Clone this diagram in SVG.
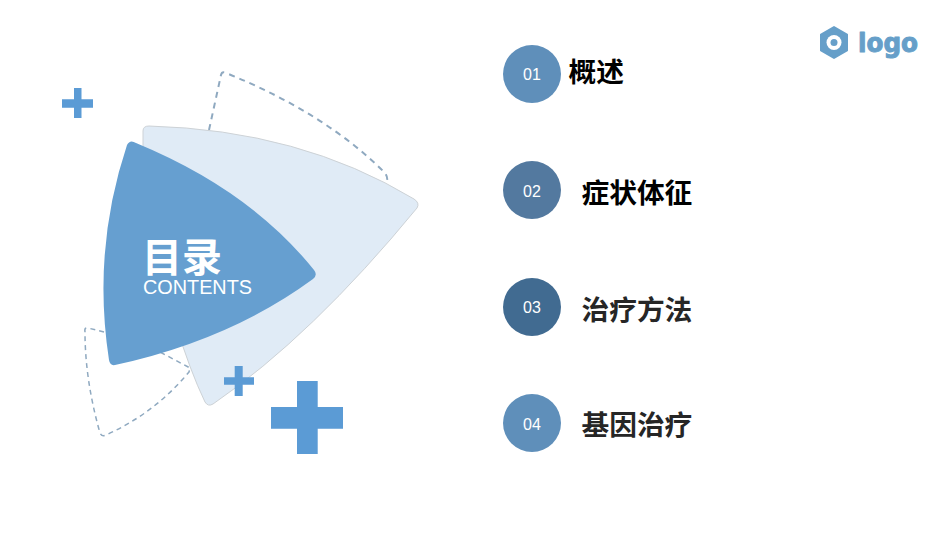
<svg xmlns="http://www.w3.org/2000/svg" width="950" height="535" viewBox="0 0 950 535">
<style>
text{font-family:"Liberation Sans","Noto Sans CJK SC",sans-serif}
.dash{fill:none;stroke:#8fa9c0;stroke-linejoin:round}
.plus{fill:#5b9bd5}
.num{fill:#fff;font-size:16px;text-anchor:middle}
.zh{font-size:27.7px;font-weight:700;font-family:"Noto Sans CJK SC",sans-serif}
</style>
<rect width="950" height="535" fill="#fff"/>
<g id="dashed-top"><path class="dash" stroke-width="2" stroke-dasharray="6 5" d="M209 130L221 75Q222 71 226 73Q325 113 384 172Q388 176 387 181"/></g>
<g id="dashed-bottom"><path class="dash" stroke-width="1.500" stroke-dasharray="5 4" d="M104 332L88 328Q84 327 85 332Q85 380 100 433Q102 437 106 435Q155 413 189 372L190 368L160 352"/></g>
<g id="back-petal"><path fill="#e0ebf6" stroke="#cdd2d6" stroke-width="1" d="M143 131Q143 126 149 126Q300 130 414 199Q420 203 417 208Q312 336 213 404Q208 407 205 402Q175 340 143 200Z"/></g>
<g id="front-petal"><path fill="#669fd0" d="M127 145Q130 139 136 143Q250 190 314 270Q318 275 313 279Q230 340 115 365Q110 366 109 360Q92 250 127 145Z"/></g>
<g id="title">
<text x="142" y="272" font-size="40" font-weight="700" fill="#fff" style="font-family:'Noto Sans CJK SC',sans-serif">目录</text>
<text x="143" y="294" font-size="20" fill="#fff" textLength="109" lengthAdjust="spacingAndGlyphs">CONTENTS</text>
</g>
<g id="plus-1"><path class="plus" d="M74 88h7.500v11.300h11.500v8.400h-11.500v10.300h-7.500v-10.300h-12v-8.400h12z"/></g>
<g id="plus-2"><path class="plus" d="M234.700 366h8v11.300h11.300v7.400h-11.300v11.300h-8v-11.300h-10.700v-7.400h10.700z"/></g>
<g id="plus-3"><path class="plus" d="M297 381h20.700v26h25.300v21.700h-25.300v25.300h-20.700v-25.300h-26v-21.700h26z"/></g>
<g id="logo">
<path fill="#669fc9" stroke="#669fc9" stroke-width="2" stroke-linejoin="round" d="M834 27l13 7.500v16l-13 7.500-13-7.500v-16z"/>
<circle cx="834" cy="42.500" r="7.500" fill="#fff"/><circle cx="834" cy="42.500" r="3.500" fill="#669fc9"/>
<text x="858" y="52" font-size="26" font-weight="700" fill="#669fc9" stroke="#669fc9" stroke-width="1" stroke-linejoin="round" style="font-family:'DejaVu Sans',sans-serif" textLength="60" lengthAdjust="spacingAndGlyphs">logo</text>
</g>
<g id="item-1"><circle cx="532" cy="74" r="29" fill="#5f8fba"/><text class="num" x="532" y="80">01</text><text class="zh" x="568.500" y="82" fill="#000">概述</text></g>
<g id="item-2"><circle cx="532" cy="190" r="29" fill="#53799f"/><text class="num" x="532" y="197">02</text><text class="zh" x="581.500" y="203" fill="#000">症状体征</text></g>
<g id="item-3"><circle cx="532" cy="307" r="29" fill="#416b91"/><text class="num" x="532" y="313">03</text><text class="zh" x="581.500" y="320" fill="#262626">治疗方法</text></g>
<g id="item-4"><circle cx="532" cy="423" r="29" fill="#5f8fba"/><text class="num" x="532" y="430">04</text><text class="zh" x="581.500" y="435" fill="#262626">基因治疗</text></g>
<g id="connectors"/>
</svg>
